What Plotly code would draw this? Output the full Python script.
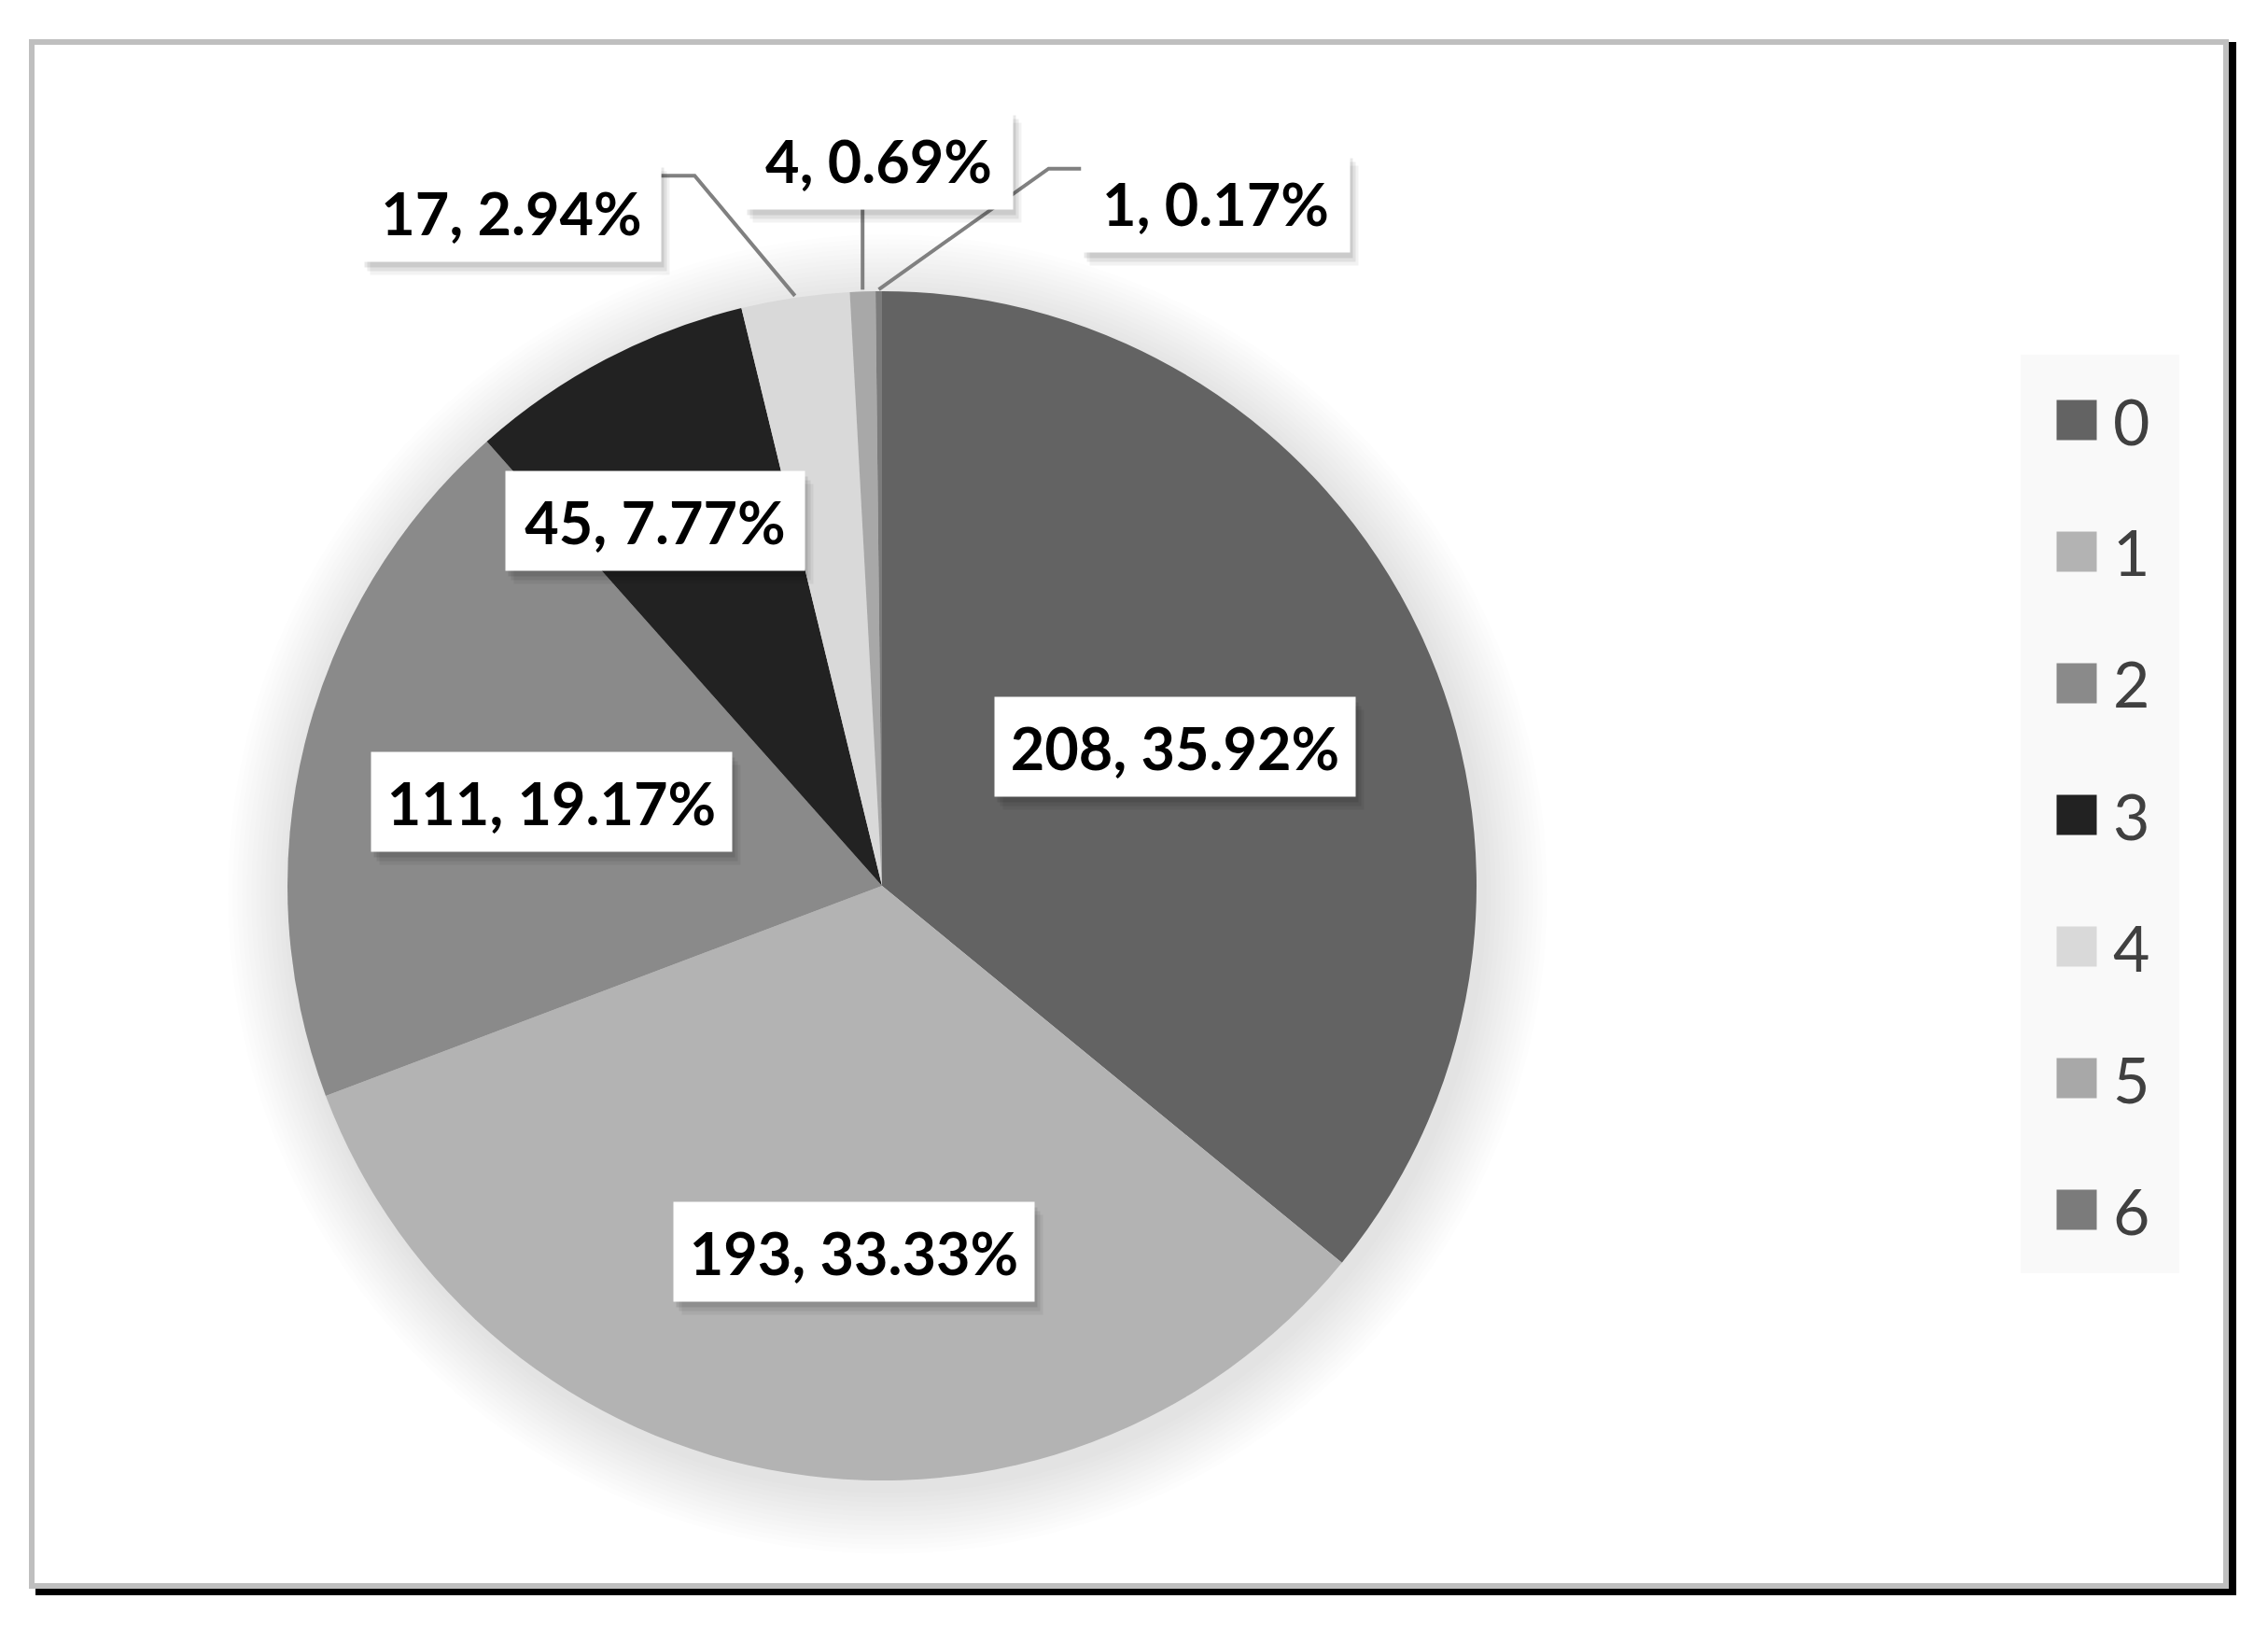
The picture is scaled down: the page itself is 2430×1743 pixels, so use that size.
import math
import plotly.graph_objects as go

# data
categories = ["0", "1", "2", "3", "4", "5", "6"]
counts = [208, 193, 111, 45, 17, 4, 1]
colors = ["#636363", "#b3b3b3", "#8a8a8a", "#222222", "#d9d9d9", "#a8a8a8", "#7b7b7b"]

# page geometry (screen px), figure sits 8px in because of the body margin
W, H, OFF = 2414, 1727, 8
CX, CY, R = 945, 949, 637

# where each data label box sits: radius (in pie radii) and angle nudge (deg)
LABEL_R = [0.545, 0.617, 0.573, 0.722, 1.293, 1.221, 1.279]
LABEL_DA = [0, -4.9, 0.5, -4.2, -20.4, 1.6, 26.3]
LABEL_FONT = "Lato, Arial"


def px(x):
    return (x - OFF) / W


def py(y):
    return 1 - (y - OFF) / H


def polar(r, ang):
    a = math.radians(ang)
    return CX + r * math.sin(a), CY - r * math.cos(a)


total = sum(counts)
texts = ["%d, %.2f%%" % (c, 100.0 * c / total) for c in counts]

fig = go.Figure()
fig.add_trace(go.Pie(
    labels=categories, values=counts, sort=False, direction="clockwise",
    rotation=0, textinfo="none", showlegend=False,
    marker=dict(colors=colors, line=dict(width=0)),
    domain=dict(x=[px(CX - R), px(CX + R)], y=[py(CY + R), py(CY - R)]),
))

shapes = []
# chart frame: black drop edge, then grey border with white fill
shapes.append(dict(type="rect", xref="paper", yref="paper", layer="below",
                   x0=px(42), x1=px(2392), y0=py(1705), y1=py(49),
                   line=dict(color="black", width=8), fillcolor="white"))
shapes.append(dict(type="rect", xref="paper", yref="paper", layer="below",
                   x0=px(34), x1=px(2385), y0=py(1699), y1=py(45),
                   line=dict(color="#bfbfbf", width=6), fillcolor="white"))
# soft shadow behind the pie
for k in range(14, 0, -1):
    rr = R + 5 * k
    shapes.append(dict(type="circle", xref="paper", yref="paper", layer="below",
                       x0=px(CX + 6 - rr), x1=px(CX + 6 + rr),
                       y0=py(CY + 9 + rr), y1=py(CY + 9 - rr),
                       line=dict(width=0), fillcolor="rgba(0,0,0,0.009)"))

annotations = []
cum = 0
for i, c in enumerate(counts):
    mid = (cum + c / 2) / total * 360
    cum += c
    lx, ly = polar(LABEL_R[i] * R, mid + LABEL_DA[i])
    bw = 33 * len(texts[i]) + 23
    bh = 106
    if LABEL_R[i] > 1:
        ex, ey = polar(R + 2, mid)
        if abs(ex - lx) < 60:
            path = "M%f,%f L%f,%f" % (px(ex), py(ey), px(ex), py(ly + bh / 2))
        elif ex > lx:
            side = lx + bw / 2
            path = "M%f,%f L%f,%f L%f,%f" % (px(ex), py(ey), px(side + 36), py(ly - 39),
                                             px(side), py(ly - 39))
        else:
            side = lx - bw / 2
            path = "M%f,%f L%f,%f L%f,%f" % (px(ex), py(ey), px(side - 35), py(ly - 36),
                                             px(side), py(ly - 36))
        shapes.append(dict(type="path", xref="paper", yref="paper", path=path,
                           line=dict(color="#808080", width=4)))
    for sx, sy, al in [(9, -14, 0.05), (6, -10, 0.07), (3, -6, 0.09)]:
        annotations.append(dict(x=px(lx), y=py(ly), xref="paper", yref="paper",
                                xanchor="center", yanchor="middle",
                                text="", showarrow=False, width=bw, height=bh,
                                bgcolor="rgba(0,0,0,%s)" % al, xshift=sx, yshift=sy,
                                borderpad=0))
    annotations.append(dict(x=px(lx), y=py(ly), xref="paper", yref="paper",
                            xanchor="center", yanchor="middle",
                            text="<b>%s</b>" % texts[i], showarrow=False,
                            width=bw, height=bh, bgcolor="white", borderpad=0,
                            font=dict(family=LABEL_FONT, size=63, color="black")))

# legend drawn by hand so the swatches can be as big as the original
shapes.append(dict(type="rect", xref="paper", yref="paper", layer="below",
                   x0=px(2165), x1=px(2335), y0=py(1364), y1=py(380),
                   line=dict(width=0), fillcolor="#f9f9f9"))
for i, cat in enumerate(categories):
    yc = 450 + 141 * i
    annotations.append(dict(x=px(2225), y=py(yc), xref="paper", yref="paper",
                            xanchor="center", yanchor="middle",
                            text="", showarrow=False, width=42, height=42,
                            bgcolor=colors[i], borderpad=0))
    annotations.append(dict(x=px(2262), y=py(yc), xref="paper", yref="paper",
                            xanchor="left", yanchor="middle", text=cat, showarrow=False,
                            font=dict(family="Lato, Open Sans", size=68, color="#404040")))

fig.update_layout(width=W, height=H, margin=dict(l=0, r=0, t=0, b=0),
                  paper_bgcolor="white", plot_bgcolor="white",
                  shapes=shapes, annotations=annotations)
fig.write_html("out.html")
